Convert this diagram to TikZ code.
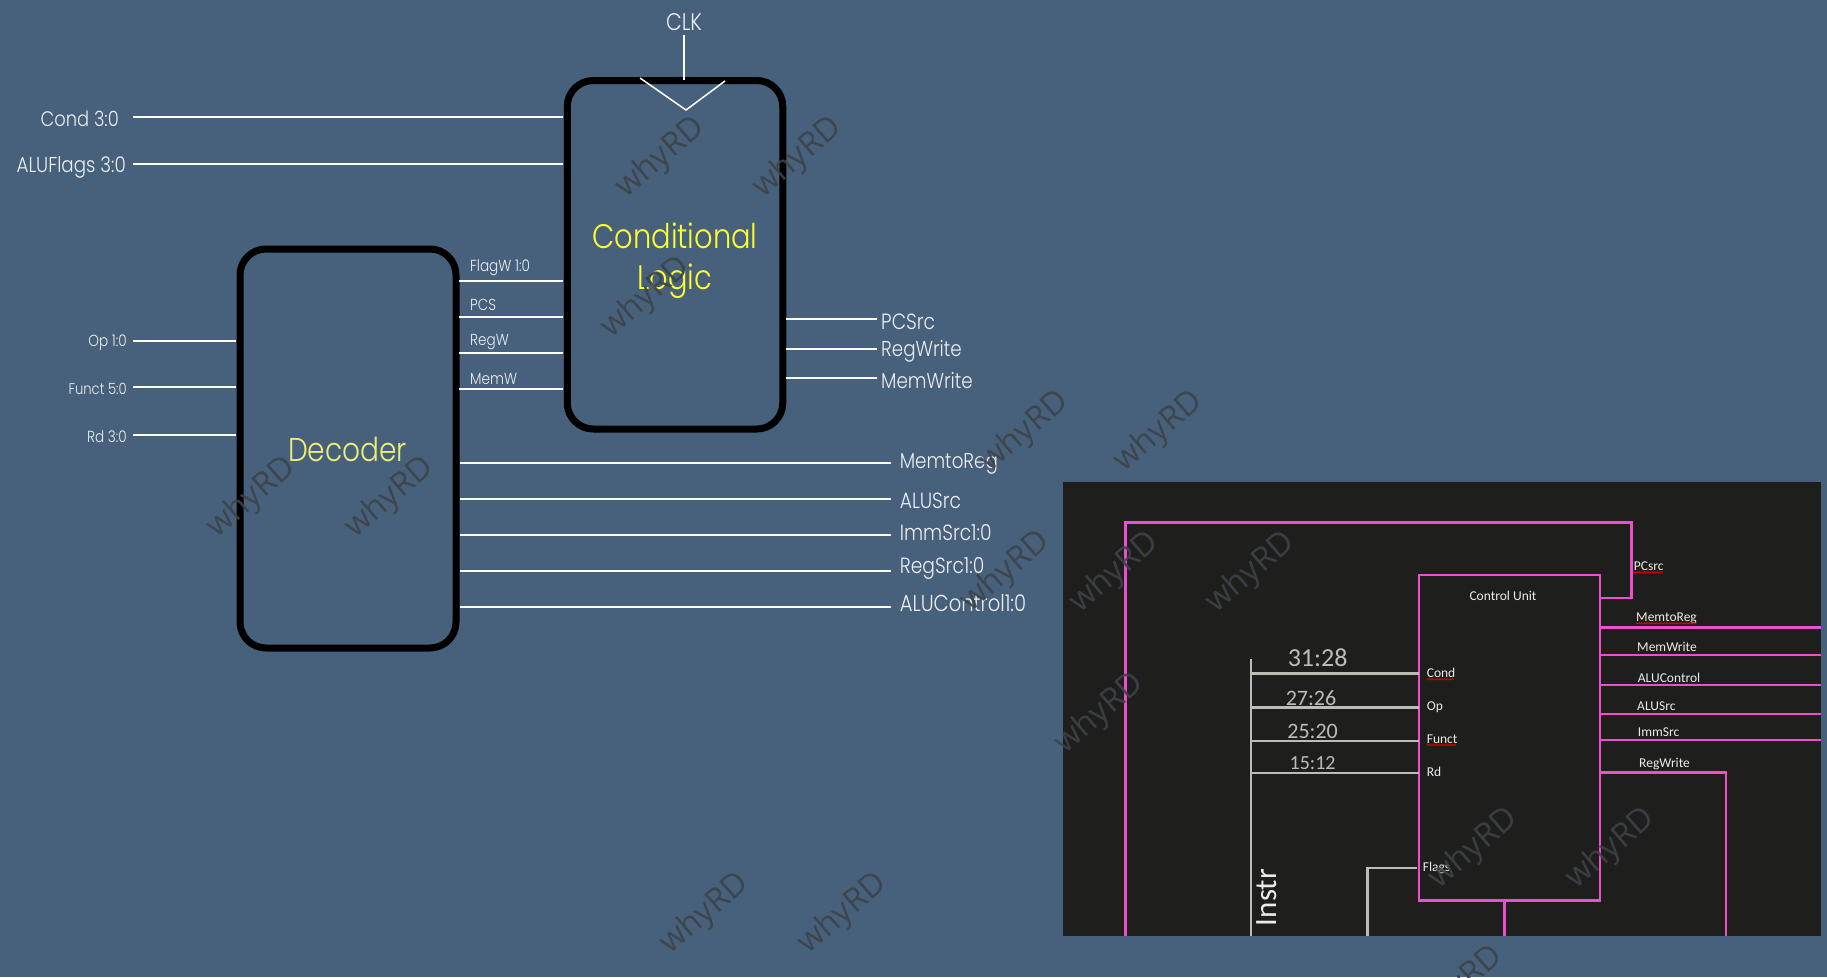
\documentclass[tikz,border=0pt]{standalone}
\usepackage{fontspec}
\setmainfont{Poppins Light}[FakeStretch=0.85]
\newfontfamily\shotfont{Carlito}
\newfontfamily\wmfont{Open Sans}
\usetikzlibrary{decorations.pathmorphing}
\definecolor{bgblue}{HTML}{47617C}
\definecolor{panel}{HTML}{1E1F1D}
\definecolor{pinkw}{HTML}{EE4FCF}
\definecolor{greyw}{HTML}{BDBDB8}
\definecolor{condy}{HTML}{FFFF2E}
\definecolor{decy}{HTML}{EEEE77}
\definecolor{wm}{HTML}{3D4248}
\tikzset{
 fs/.style={font=\fontsize{#1}{#1}\selectfont},
 blockbox/.style={draw=black,line width=7pt,rounded corners=26pt,inner sep=0pt},
 wire/.style={draw=white,line width=2.2pt,shorten >=1pt,shorten <=0pt},
 thinw/.style={draw=white,line width=1.5pt},
 lab/.style={text=white!90!bgblue,inner sep=0pt,yshift=-1.5pt,fs=#1},
 pinkl/.style={draw=pinkw,line width=2.8pt,line join=miter},
 greyl/.style={draw=greyw,line width=2.4pt},
 shot/.style={text=white!92!black,inner sep=0pt,anchor=west,font=\fontsize{13.5}{13.5}\shotfont},
 hand/.style={text=greyw,inner sep=0pt,font=\fontsize{#1}{#1}\shotfont},
 squig/.style={draw=red!85!black,line width=.9pt,decorate,decoration={snake,amplitude=.6pt,segment length=2.5pt}},
 wmark/.style={text=wm,opacity=.9,rotate=41,inner sep=0pt,font=\fontsize{32.5}{32.5}\wmfont},
}
\begin{document}
\begin{tikzpicture}[x=1pt,y=-1pt]
\useasboundingbox (0,0) rectangle (1827,977);
\clip (0,0) rectangle (1827,977);
\fill[bgblue] (0,0) rectangle (1827,977);
% --- blocks
\node[blockbox,minimum width=215.5pt,minimum height=348.5pt] (cond) at (675,254.75) {};
\node[blockbox,minimum width=216pt,minimum height=399pt] (dec) at (348,448.5) {};
\node[text=condy,align=center,inner sep=0pt,font=\fontsize{34}{41}\selectfont] (condt) at (675,261) {Conditional\\Logic};
\node[text=decy,inner sep=0pt,fs=33] (dect) at (347.5,449.5) {Decoder};
% --- clock
\node[lab=24] (clk) at (684,21) {CLK};
\coordinate (clkend) at (684,80);
\coordinate (trL) at (640,78);
\coordinate (trM) at (686,110);
\coordinate (trR) at (725,81);
\draw[thinw] (clk.south |- 0,35) -- (clkend);
\draw[thinw] (trL) -- (trM) -- (trR);
% --- left inputs to conditional
\coordinate (wCond) at (133,117);
\coordinate (wFlags) at (133,164.3);
\node[lab=21,anchor=east] (lCond) at (119,117) {Cond 3:0};
\node[lab=21.5,anchor=east] (lFlags) at (126,166) {ALUFlags 3:0};
\draw[wire] (wCond) -- (wCond -| cond.west);
\draw[wire] (wFlags) -- (wFlags -| cond.west);
% --- decoder inputs
\coordinate (wOp) at (133,341);
\coordinate (wFunct) at (133,387.3);
\coordinate (wRd) at (133,434.7);
\node[lab=16,anchor=east] (lOp) at (127,341) {Op 1:0};
\node[lab=15.5,anchor=east] (lFunct) at (127,387) {Funct 5:0};
\node[lab=16,anchor=east] (lRd) at (127,435.5) {Rd 3:0};
\draw[wire] (wOp) -- (wOp -| dec.west);
\draw[wire] (wFunct) -- (wFunct -| dec.west);
\draw[wire] (wRd) -- (wRd -| dec.west);
% --- decoder to conditional
\foreach \n/\y/\ly/\t in {a/281/266/FlagW 1:0,b/317/303/PCS,c/353/341/RegW,d/389/377/MemW}{
  \coordinate (f\n) at (459,\y);
  \node[lab=16,anchor=west] (lf\n) at (470,\ly) {\t};
  \draw[wire] (f\n) -- (f\n -| cond.west);
}
% --- conditional outputs
\foreach \n/\y/\ly/\s/\t in {a/319/320/22/PCSrc,b/348.7/350/21.5/RegWrite,c/378/379/21.5/MemWrite}{
  \coordinate (o\n) at (877,\y);
  \node[lab=\s,anchor=west] (lo\n) at (881,\ly) {\t};
  \draw[draw=white,line width=2.2pt] (o\n -| cond.east) -- (o\n);
}
% --- decoder outputs
\foreach \n/\y/\ly/\s/\t in {a/462.6/462.6/21.5/MemtoReg,b/498.6/499/22/ALUSrc,c/534.7/531.5/22/ImmSrc1:0,d/570.8/567/22/RegSrc1:0,e/606.8/601.5/23/ALUControl1:0}{
  \coordinate (p\n) at (890.5,\y);
  \node[lab=\s,anchor=west] (lp\n) at (899.6,\ly) {\t};
  \draw[draw=white,line width=2.2pt] (p\n -| dec.east) -- (p\n);
}
% --- screenshot panel
\fill[panel] (1063,482) rectangle (1820.6,935.7);
\coordinate (b1) at (1125.3,935.7);
\coordinate (b2) at (1125.3,522.7);
\coordinate (b3) at (1631.7,522.7);
\coordinate (b4) at (1631.7,598);
\node[draw=pinkw,line width=2.8pt,minimum width=181pt,minimum height=325.3pt,inner sep=0pt,outer sep=0pt] (cu) at (1509.5,737.65) {};
\draw[pinkl] (b1) -- (b2) -- (b3) -- (b4) -- (b4 -| cu.east);
\foreach \n/\y in {a/627.3,b/655,c/685,d/714,e/740}{
  \coordinate (q\n) at (1820.6,\y);
  \draw[pinkl] (q\n -| cu.east) -- (q\n);
}
\coordinate (r1) at (1726,772.3);
\coordinate (r2) at (1726,935.7);
\draw[pinkl] (r1 -| cu.east) -- (r1) -- (r2);
\coordinate (s1) at (1504.5,935.7);
\draw[pinkl] (s1 |- cu.south) -- (s1);
% grey wires
\coordinate (g1) at (1250.7,659);
\coordinate (g2) at (1250.7,935.7);
\draw[greyl] (g1) -- (g2);
\foreach \n/\y in {a/673.3,b/707.3,c/740.7,d/773}{
  \coordinate (h\n) at (1250.7,\y);
  \draw[greyl] (h\n) -- (h\n -| cu.west);
}
\coordinate (k1) at (1367.6,935.7);
\coordinate (k2) at (1367.6,867.7);
\coordinate (k3) at (1416.7,867.7);
\draw[greyl] (k1) -- (k2) -- (k3);
% screenshot texts
\node[shot,anchor=center] (tcu) at (1503,595.7) {Control Unit};
\node[shot] (t1) at (1633.7,565.7) {PCsrc};
\node[shot] (t2) at (1636,618.5) {MemtoReg};
\node[shot] (t3) at (1637,646.7) {MemWrite};
\node[shot] (t4) at (1637.7,677.7) {ALUControl};
\node[shot] (t5) at (1637,706) {ALUSrc};
\node[shot] (t6) at (1637.7,732) {ImmSrc};
\node[shot] (t7) at (1639,764) {RegWrite};
\node[shot] (t8) at (1426.6,673) {Cond};
\node[shot] (t9) at (1426.6,706.7) {Op};
\node[shot] (t10) at (1426.6,739) {Funct};
\node[shot] (t11) at (1426.6,772) {Rd};
\node[shot] (t12) at (1422.6,867.7) {Flags};
\draw[squig] (1633.7,572.3) -- (1663,572.3);
\draw[squig] (1636,623.3) -- (1696.7,623.3);
\draw[squig] (1426.6,679.3) -- (1454,679.3);
\draw[squig] (1426.6,745) -- (1456,745);
\node[hand=26] (h31) at (1317.6,658) {31:28};
\node[hand=22] (h27) at (1311,698) {27:26};
\node[hand=22] (h25) at (1312.6,731.7) {25:20};
\node[hand=20] (h15) at (1312.6,763) {15:12};
\node[hand=31,text=white!92!black,rotate=90] (hins) at (1266.5,897.5) {Instr};
% watermarks
\foreach \x/\y [count=\i] in {661/158,798/158,646/298,252/498,390/498,1025/432,1159/432,1006/572,1115/573,1251/573,1100/714,1474/849,1611/849,705/914,843/914,1459/987}{
  \node[wmark] (wm\i) at (\x,\y) {whyRD};
}
\end{tikzpicture}
\end{document}
